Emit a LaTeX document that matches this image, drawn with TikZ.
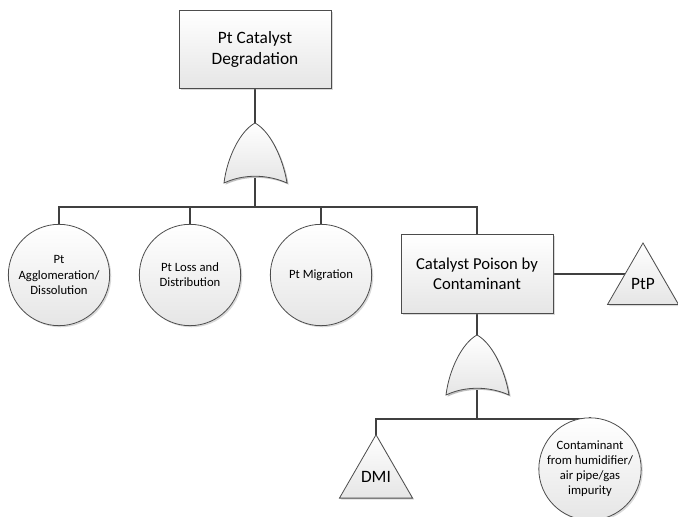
\documentclass[tikz,border=0pt]{standalone}
\usepackage{fontspec}
\setmainfont{Carlito}
\usetikzlibrary{shapes.geometric, shadows, backgrounds}

\newcommand\orpath{(0,0) .. controls (-15,8) and (-28,35) .. (-31,60)
  .. controls (-12,51) and (12,51) .. (32,60)
  .. controls (28,35) and (15,8) .. cycle}

\tikzset{
  orgate/.pic={
    \fill[black!25, xshift=1.2pt, yshift=-1.2pt] \orpath;
    \draw[draw=black!70, line width=0.6pt, top color=white, bottom color=black!10] \orpath;
    \coordinate (-in) at (0,0);
    \coordinate (-out) at (0,55);
  }
}

\begin{document}
\begin{tikzpicture}[x=0.75pt, y=-0.75pt,
    shape base/.style={draw=black!70, line width=0.6pt, top color=white, bottom color=black!10,
      drop shadow={shadow xshift=1.2pt, shadow yshift=-1.2pt, opacity=0.3}, align=center},
    event/.style={shape base, rectangle, minimum width=114pt, minimum height=59pt},
    basic/.style={shape base, circle, minimum size=76pt, inner sep=0pt, font=\fontsize{9.5}{11.3}\selectfont},
    transfer/.style={shape base, regular polygon, regular polygon sides=3, inner sep=0pt, outer sep=0pt,
      font=\fontsize{13}{15}\selectfont},
    wire/.style={draw=black!75, line width=1.5pt}]
    \useasboundingbox (0,0) rectangle (678,517);

    \node[event, font=\fontsize{13}{15.75}\selectfont] (top) at (255,49.5) {Pt Catalyst\\Degradation};
    \pic (g1) at (255,123) {orgate};
    \coordinate (bus1) at (255,207);

    \node[basic] (c1) at (59,275)  {Pt\\Agglomeration/\\Dissolution};
    \node[basic] (c2) at (190,275) {Pt Loss and\\Distribution};
    \node[basic] (c3) at (321,275) {Pt Migration};
    \node[event, font=\fontsize{12.5}{15}\selectfont] (cp) at (477,274) {Catalyst Poison by\\Contaminant};
    \node[transfer, minimum size=61.5pt] (ptp) at (643,284) {PtP};

    \pic (g2) at (477,335) {orgate};
    \coordinate (bus2) at (477,419);
    \node[transfer, minimum size=59pt] (dmi) at (376,477) {DMI};
    \node[basic] (c5) at (590,469) {Contaminant\\from humidifier/\\air pipe/gas\\impurity};

    \begin{scope}[on background layer]
        \draw[wire] (top.south) -- (g1-in);
        \draw[wire] (g1-out) -- (bus1);
        \foreach \n in {c1,c2,c3,cp}
            \draw[wire] (bus1) -| (\n.north);
        \draw[wire] (cp.east) -- (cp.east -| ptp.center);
        \draw[wire] (cp.south) -- (g2-in);
        \draw[wire] (g2-out) -- (bus2);
        \draw[wire] (bus2) -| (dmi.corner 1);
        \draw[wire] (bus2) -| (c5.north);
    \end{scope}
\end{tikzpicture}
\end{document}
